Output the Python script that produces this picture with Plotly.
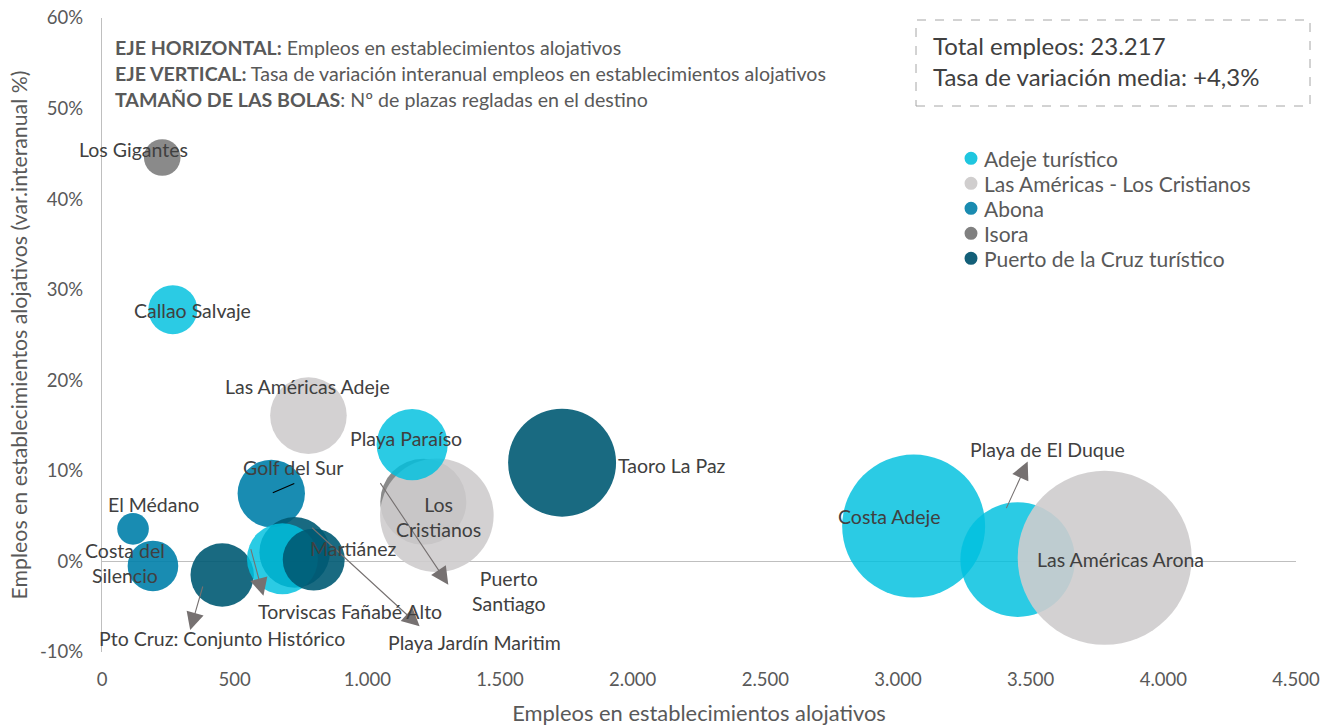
import plotly.graph_objects as go

# ---------------- data ----------------
destinos = [
    "Los Gigantes", "Puerto Santiago", "Las Américas Adeje", "Los Cristianos",
    "Playa Paraíso", "Callao Salvaje", "El Médano", "Costa del Silencio",
    "Golf del Sur", "Pto Cruz: Conjunto Histórico", "Playa Jardín Maritim",
    "Torviscas Fañabé Alto", "Martiánez", "Taoro La Paz", "Costa Adeje",
    "Playa de El Duque", "Las Américas Arona",
]
zonas = [
    "Isora", "Isora", "Las Américas - Los Cristianos", "Las Américas - Los Cristianos",
    "Adeje turístico", "Adeje turístico", "Abona", "Abona",
    "Abona", "Puerto de la Cruz turístico", "Puerto de la Cruz turístico",
    "Adeje turístico", "Puerto de la Cruz turístico", "Puerto de la Cruz turístico", "Adeje turístico",
    "Adeje turístico", "Las Américas - Los Cristianos",
]
empleos = [227, 1211, 778, 1262, 1169, 267, 117, 192, 638, 453, 726, 680, 798, 1734, 3059, 3451, 3779]
variacion = [0.446, 0.066, 0.161, 0.051, 0.129, 0.278, 0.036, -0.005, 0.075, -0.015, 0.010,
             0.003, 0.002, 0.109, 0.039, 0.002, 0.004]
plazas = [1340, 7400, 5870, 12900, 5070, 2400, 1000, 2560, 4540, 4020, 4980, 5040, 3840,
          11660, 20450, 13130, 30280]

leyenda = ["Adeje turístico", "Las Américas - Los Cristianos", "Abona", "Isora",
           "Puerto de la Cruz turístico"]

x_ticks = [0, 500, 1000, 1500, 2000, 2500, 3000, 3500, 4000, 4500]
y_ticks = [-0.1, 0.0, 0.1, 0.2, 0.3, 0.4, 0.5, 0.6]

total_empleos = "23.217"
tasa_media = "+4,3%"

# ---------------- styles ----------------
FONT = "Lato"
colores = {
    "Adeje turístico": "rgba(0,192,222,0.83)",
    "Las Américas - Los Cristianos": "rgba(206,204,205,0.9)",
    "Abona": "rgba(0,128,170,0.9)",
    "Isora": "rgba(118,118,118,0.85)",
    "Puerto de la Cruz turístico": "rgba(0,90,115,0.9)",
}
leyenda_col = {
    "Adeje turístico": "#1FC6DF",
    "Las Américas - Los Cristianos": "#D0CECE",
    "Abona": "#1A8BB0",
    "Isora": "#808080",
    "Puerto de la Cruz turístico": "#135F78",
}

# label offsets in px relative to bubble centre (dx right, dy up)
label_off = {
    "Los Gigantes": (-29, 8, "Los Gigantes"),
    "Puerto Santiago": (86, -89, "Puerto<br>Santiago"),
    "Las Américas Adeje": (-1, 29, "Las Américas Adeje"),
    "Los Cristianos": (2, -2, "Los<br>Cristianos"),
    "Playa Paraíso": (-6, 6, "Playa Paraíso"),
    "Callao Salvaje": (20, -1, "Callao Salvaje"),
    "El Médano": (20, 24, "El Médano"),
    "Costa del Silencio": (-28, 3, "Costa del<br>Silencio"),
    "Golf del Sur": (22, 26, "Golf del Sur"),
    "Pto Cruz: Conjunto Histórico": (0, -63, "Pto Cruz: Conjunto Histórico"),
    "Playa Jardín Maritim": (180, -90, "Playa Jardín Maritim"),
    "Torviscas Fañabé Alto": (68, -53, "Torviscas Fañabé Alto"),
    "Martiánez": (39, 11, "Martiánez"),
    "Taoro La Paz": (110, -3, "Taoro La Paz"),
    "Costa Adeje": (-24, 10, "Costa Adeje"),
    "Playa de El Duque": (30, 110, "Playa de El Duque"),
    "Las Américas Arona": (16, -2, "Las Américas Arona"),
}
# leader arrows: (head dx, head dy(up), tail ax, tail ay(down), colour, head style)
flechas = {
    "Pto Cruz: Conjunto Histórico": (-32, -55, 13, -45, "#767171", 2),
    "Torviscas Fañabé Alto": (-19, -37, -13, -48, "#767171", 2),
    "Playa Jardín Maritim": (125, -74, -109, -100, "#767171", 2),
    "Puerto Santiago": (25, -83, -69, -103, "#767171", 2),
    "Playa de El Duque": (10, 98, -22, 48, "#767171", 2),
    "Golf del Sur": (23, 10, -23, 10, "#000000", 0),
}

W, H = 1335, 726
L, R, T, B = 102, 39, 18, 74
pw, ph = W - L - R, H - T - B


def px_x(v):
    return (v - L) / pw


def px_y(v):
    return (H - B - v) / ph


fig = go.Figure()

max_d = 174
fig.add_trace(go.Scatter(
    x=empleos, y=variacion, mode="markers",
    marker=dict(size=plazas, sizemode="area", sizeref=2 * max(plazas) / (max_d ** 2),
                color=[colores[z] for z in zonas], line=dict(width=0), opacity=1),
    text=destinos, hovertemplate="%{text}<br>%{x}<br>%{y:.1%}<extra></extra>",
    showlegend=False,
))

annotations = []
shapes = []
for d, xv, yv in zip(destinos, empleos, variacion):
    dx, dy, txt = label_off[d]
    annotations.append(dict(
        x=xv, y=yv, xref="x", yref="y", text=txt, showarrow=False,
        xshift=dx, yshift=dy, font=dict(family=FONT, size=19.5, color="#404040"),
        align="center",
    ))
    if d in flechas:
        hx, hy, ax, ay, col, head = flechas[d]
        annotations.append(dict(
            x=xv, y=yv, xref="x", yref="y", text="", showarrow=True,
            xshift=hx, yshift=hy, ax=ax, ay=ay, axref="pixel", ayref="pixel",
            arrowhead=head, arrowsize=3.2 if head else 1, arrowwidth=1.1,
            arrowcolor=col, standoff=0, startstandoff=0,
        ))

# explanatory text top-left
info_lines = [
    "<b>EJE HORIZONTAL:</b> Empleos en establecimientos alojativos",
    "<b>EJE VERTICAL:</b> Tasa de variación interanual empleos en establecimientos alojativos",
    "<b>TAMAÑO DE LAS BOLAS</b>: Nº de plazas regladas en el destino",
]
for i, t in enumerate(info_lines):
    annotations.append(dict(
        x=px_x(113), y=px_y(47 + 26.5 * i), xref="paper", yref="paper", text=t, showarrow=False,
        xanchor="left", yanchor="middle", font=dict(family=FONT, size=19.6, color="#595959"),
    ))

# totals box
box_lines = [f"Total empleos: {total_empleos}", f"Tasa de variación media: {tasa_media}"]
for i, t in enumerate(box_lines):
    annotations.append(dict(
        x=px_x(931), y=px_y(46 + 31 * i), xref="paper", yref="paper", text=t, showarrow=False,
        xanchor="left", yanchor="middle", font=dict(family=FONT, size=24, color="#404040"),
    ))
shapes.append(dict(type="rect", xref="paper", yref="paper",
                   x0=px_x(916), x1=px_x(1310), y0=px_y(106), y1=px_y(20),
                   line=dict(color="#A6A6A6", width=1, dash="dash"),
                   fillcolor="rgba(0,0,0,0)"))

# legend (drawn manually for exact spacing)
for i, z in enumerate(leyenda):
    cy = 158.3 + 25 * i
    r = 6.5
    shapes.append(dict(type="circle", xref="paper", yref="paper",
                       x0=px_x(971 - r), x1=px_x(971 + r), y0=px_y(cy + r), y1=px_y(cy - r),
                       fillcolor=leyenda_col[z], line=dict(width=0)))
    annotations.append(dict(
        x=px_x(982), y=px_y(cy), xref="paper", yref="paper", text=z, showarrow=False,
        xanchor="left", yanchor="middle", font=dict(family=FONT, size=21, color="#595959"),
    ))

fig.update_layout(
    width=W, height=H,
    margin=dict(l=L, r=R, t=T, b=B, autoexpand=False),
    plot_bgcolor="white", paper_bgcolor="white",
    separators=",.",
    showlegend=False,
    font=dict(family=FONT, color="#595959"),
    annotations=annotations,
    shapes=shapes,
    xaxis=dict(range=[0, 4500], tickvals=x_ticks,
               ticktext=[f"{v:,}".replace(",", ".") for v in x_ticks],
               showgrid=False, zeroline=False, showline=False, ticks="", automargin=False,
               tickfont=dict(family=FONT, size=18.5, color="#595959"),
               ticklabelstandoff=14,
               title=dict(text="Empleos en establecimientos alojativos",
                          font=dict(family=FONT, size=21.9, color="#595959"), standoff=17)),
    yaxis=dict(range=[-0.1, 0.6], tickvals=y_ticks,
               ticktext=[f"{round(v * 100)}%" for v in y_ticks],
               showgrid=False, automargin=False,
               zeroline=True, zerolinecolor="#BFBFBF", zerolinewidth=1.3,
               showline=True, linecolor="#BFBFBF", linewidth=1.3, ticks="",
               tickfont=dict(family=FONT, size=18.5, color="#595959"),
               ticklabelstandoff=14,
               title=dict(text="Empleos en establecimientos alojativos (var.interanual %)",
                          font=dict(family=FONT, size=21.3, color="#595959"), standoff=6)),
)

fig.write_html("out.html", config={"displayModeBar": False},
               post_script="document.body.style.margin='0';")
